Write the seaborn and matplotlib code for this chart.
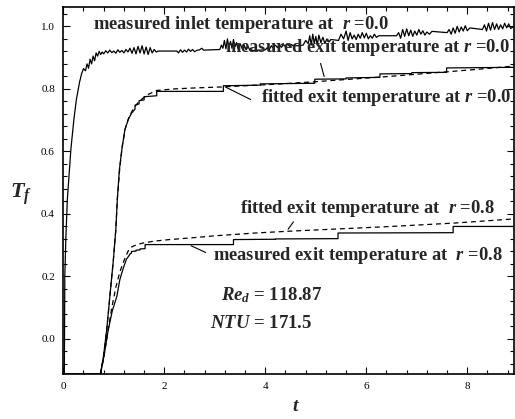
import numpy as np
import pandas as pd
import seaborn as sns
import matplotlib.pyplot as plt
from matplotlib.ticker import MultipleLocator

# measured inlet temperature at r = 0.0 (noisy trace)
inlet_t = [0.02, 0.03, 0.05, 0.08, 0.15, 0.21, 0.26, 0.32, 0.36, 0.40, 0.44, 0.47, 0.50, 0.53,
           0.56, 0.59, 0.62, 0.65, 0.68, 0.71, 0.74, 0.77, 0.80, 0.84, 0.88, 0.92, 0.96, 1.00,
           1.04, 1.08, 1.12, 1.16, 1.20, 1.24, 1.28, 1.32, 1.36, 1.40, 1.44, 1.48, 1.52, 1.56,
           1.60, 1.64, 1.68, 1.72, 1.76, 1.80, 1.84, 1.88, 2.25, 2.28, 2.32, 2.36, 2.40, 2.44,
           2.48, 2.52, 2.56, 2.60, 2.64, 2.70, 2.74, 2.78, 3.10, 3.13, 3.16, 3.19, 3.22, 3.25,
           3.28, 3.31, 3.34, 3.37, 3.40, 3.43, 3.46, 3.50, 3.54, 3.58, 3.62, 3.66, 3.70, 4.00,
           4.04, 4.08, 4.12, 4.16, 4.20, 4.24, 4.28, 4.32, 4.36, 4.40, 4.44, 4.48, 4.52, 4.56,
           4.75, 4.80, 4.85, 4.88, 4.91, 4.94, 4.97, 5.00, 5.03, 5.06, 5.10, 5.14, 5.18, 5.22,
           5.26, 5.30, 5.45, 5.50, 5.55, 5.60, 5.64, 5.68, 5.72, 5.76, 5.80, 5.84, 5.88, 5.92,
           5.96, 6.00, 6.04, 6.08, 6.12, 6.16, 6.20, 6.25, 6.60, 6.64, 6.68, 6.72, 6.76, 6.80,
           6.84, 6.88, 6.92, 6.96, 7.00, 7.04, 7.08, 7.12, 7.16, 7.20, 7.25, 7.30, 7.60, 7.64,
           7.68, 7.72, 7.76, 7.80, 7.84, 7.88, 7.92, 7.96, 8.00, 8.05, 8.30, 8.34, 8.38, 8.42,
           8.46, 8.50, 8.54, 8.58, 8.62, 8.66, 8.70, 8.74, 8.78, 8.82, 8.86, 8.92]
inlet_T = [-0.112, 0.20, 0.32, 0.446, 0.607, 0.703, 0.767, 0.82, 0.847, 0.865, 0.858, 0.88, 0.866, 0.895,
           0.88, 0.905, 0.89, 0.915, 0.905, 0.92, 0.91, 0.918, 0.912, 0.922, 0.915, 0.924, 0.916, 0.921,
           0.914, 0.925, 0.917, 0.923, 0.915, 0.926, 0.918, 0.930, 0.914, 0.932, 0.912, 0.936, 0.915, 0.938,
           0.912, 0.934, 0.910, 0.932, 0.915, 0.926, 0.918, 0.921, 0.921, 0.915, 0.925, 0.917, 0.924, 0.918,
           0.927, 0.920, 0.926, 0.919, 0.923, 0.925, 0.930, 0.924, 0.926, 0.940, 0.930, 0.955, 0.928, 0.960,
           0.932, 0.952, 0.930, 0.958, 0.935, 0.948, 0.928, 0.945, 0.930, 0.940, 0.925, 0.935, 0.922, 0.925,
           0.932, 0.926, 0.938, 0.930, 0.940, 0.932, 0.940, 0.933, 0.942, 0.935, 0.944, 0.936, 0.942, 0.937,
           0.940, 0.955, 0.945, 0.970, 0.940, 0.975, 0.945, 0.968, 0.940, 0.972, 0.948, 0.965, 0.945, 0.960,
           0.950, 0.958, 0.955, 0.975, 0.960, 0.985, 0.955, 0.980, 0.960, 0.972, 0.958, 0.975, 0.962, 0.980,
           0.963, 0.978, 0.960, 0.970, 0.962, 0.975, 0.965, 0.970, 0.970, 0.980, 0.962, 0.990, 0.968, 0.992,
           0.970, 0.988, 0.968, 0.985, 0.972, 0.990, 0.975, 0.986, 0.972, 0.982, 0.975, 0.984, 0.980, 0.990,
           0.975, 0.995, 0.978, 1.000, 0.982, 0.998, 0.985, 1.002, 0.986, 0.995, 0.990, 1.005, 0.985, 1.010,
           0.988, 1.012, 0.990, 1.008, 0.990, 1.005, 0.992, 1.010, 0.995, 1.008, 0.993, 1.000]

# measured exit temperature at r = 0.0 (staircase)
exit0_t = [0.00, 0.74, 0.80, 0.86, 0.93, 0.99, 1.04, 1.07, 1.11, 1.16, 1.22, 1.29, 1.35, 1.42, 1.42,
           1.50, 1.50, 1.60, 1.60, 1.85, 1.85, 3.17, 3.17, 3.90, 3.90, 4.98, 4.98, 5.60, 5.60,
           6.27, 6.27, 6.90, 6.90, 7.59, 7.59, 8.92]
exit0_T = [-0.112, -0.112, -0.05, 0.03, 0.15, 0.25, 0.35, 0.446, 0.54, 0.607, 0.67, 0.703, 0.722, 0.735, 0.748,
           0.752, 0.762, 0.765, 0.775, 0.778, 0.792, 0.792, 0.810, 0.812, 0.816, 0.818, 0.831, 0.832, 0.835,
           0.837, 0.848, 0.849, 0.852, 0.853, 0.867, 0.869]

# fitted exit temperature at r = 0.0
fit0_t = [0.74, 0.80, 0.86, 0.93, 0.99, 1.04, 1.07, 1.12, 1.17, 1.23, 1.30, 1.40, 1.50, 1.65, 1.85,
          2.20, 2.60, 3.10, 3.60, 4.20, 4.90, 5.60, 6.30, 7.00, 7.70, 8.30, 8.92]
fit0_T = [-0.112, -0.05, 0.03, 0.15, 0.25, 0.35, 0.45, 0.55, 0.62, 0.675, 0.71, 0.74, 0.76, 0.78, 0.795,
          0.800, 0.803, 0.806, 0.810, 0.815, 0.822, 0.830, 0.838, 0.847, 0.856, 0.864, 0.873]

# measured exit temperature at r = 0.8 (staircase)
exit8_t = [0.00, 0.73, 0.80, 0.89, 0.97, 1.06, 1.12, 1.19, 1.25, 1.29, 1.32, 1.35, 1.35, 1.44, 1.44,
           1.52, 1.52, 1.62, 1.62, 3.37, 3.37, 4.20, 4.20, 5.44, 5.44, 7.72, 7.72, 8.92]
exit8_T = [-0.112, -0.112, -0.06, 0.029, 0.09, 0.136, 0.19, 0.228, 0.255, 0.264, 0.272, 0.275, 0.280, 0.281, 0.284,
           0.285, 0.288, 0.289, 0.302, 0.302, 0.318, 0.319, 0.320, 0.321, 0.339, 0.340, 0.360, 0.360]

# fitted exit temperature at r = 0.8
fit8_t = [0.74, 0.80, 0.88, 0.96, 1.04, 1.12, 1.20, 1.28, 1.36, 1.46, 1.58, 1.80, 2.10, 2.50, 3.00,
          3.80, 4.50, 5.44, 6.50, 7.76, 8.92]
fit8_T = [-0.112, -0.06, 0.02, 0.10, 0.165, 0.215, 0.25, 0.28, 0.295, 0.302, 0.307, 0.313, 0.318, 0.323, 0.330,
          0.339, 0.345, 0.352, 0.360, 0.371, 0.384]

sns.set_theme(style="ticks")
plt.rcParams['font.family'] = ['Liberation Serif', 'DejaVu Serif']
plt.rcParams['mathtext.fontset'] = 'custom'
plt.rcParams['mathtext.rm'] = 'Liberation Serif:bold'
plt.rcParams['mathtext.it'] = 'Liberation Serif:bold:italic'
plt.rcParams['mathtext.bf'] = 'Liberation Serif:bold'

fig = plt.figure(figsize=(5.15, 4.19), dpi=100)
ax = fig.add_axes([63.3 / 515, 1 - 374 / 419, (513.5 - 63.3) / 515, (374 - 7.3) / 419])

lw = 0.9
sns.lineplot(x=inlet_t, y=inlet_T, sort=False, estimator=None, color='black', lw=lw, ax=ax)
sns.lineplot(x=exit0_t, y=exit0_T, sort=False, estimator=None, color='black', lw=lw, ax=ax)
sns.lineplot(x=fit0_t, y=fit0_T, sort=False, estimator=None, color='black', lw=lw,
             linestyle=(0, (4, 3)), ax=ax)
sns.lineplot(x=exit8_t, y=exit8_T, sort=False, estimator=None, color='black', lw=lw, ax=ax)
sns.lineplot(x=fit8_t, y=fit8_T, sort=False, estimator=None, color='black', lw=lw,
             linestyle=(0, (4, 3)), ax=ax)

ax.set_xlim(0, 8.915)
ax.set_ylim(-0.112, 1.061)
ax.xaxis.set_major_locator(MultipleLocator(2))
ax.xaxis.set_minor_locator(MultipleLocator(0.4))
ax.yaxis.set_major_locator(MultipleLocator(0.2))
ax.yaxis.set_minor_locator(MultipleLocator(0.04))
ax.yaxis.set_major_formatter(plt.FormatStrFormatter('%.1f'))
ax.tick_params(which='both', direction='in', top=True, right=True, colors='black',
               labelsize=8, pad=6)
ax.tick_params(which='major', length=5, width=0.8)
ax.tick_params(which='minor', length=3, width=0.8)
for s in ax.spines.values():
    s.set_linewidth(1.2)
    s.set_color('black')

ax.set_xlabel(r'$t$', fontsize=14, va='center')
ax.xaxis.set_label_coords(0.517, -0.088)
ax.set_ylabel(r'$T_f$', fontsize=16, rotation=0, va='center')
ax.yaxis.set_label_coords(-0.095, 0.49)

fs = 13.3
ax.text(0.59, 0.99, r'measured inlet temperature at  $r$ =0.0', fontsize=fs, fontweight='bold')
ax.text(3.2, 0.918, r'measured exit temperature at $r$ =0.0', fontsize=fs, fontweight='bold')
ax.text(3.92, 0.758, r'fitted exit temperature at $r$ =0.0', fontsize=fs, fontweight='bold')
ax.text(3.5, 0.404, r'fitted exit temperature at  $r$ =0.8', fontsize=fs, fontweight='bold')
ax.text(2.97, 0.252, r'measured exit temperature at  $r$ =0.8', fontsize=fs, fontweight='bold')
ax.text(3.13, 0.125, r'$Re_d$ = 118.87', fontsize=13.5, fontweight='bold')
ax.text(2.9, 0.035, r'$NTU$ = 171.5', fontsize=13.5, fontweight='bold')

# leader lines
lp = dict(arrowstyle='-', color='black', lw=0.8)
ax.annotate('', xy=(5.18, 0.831), xytext=(5.08, 0.89), arrowprops=lp)
ax.annotate('', xy=(3.16, 0.81), xytext=(3.76, 0.762), arrowprops=lp)
ax.annotate('', xy=(4.42, 0.344), xytext=(4.59, 0.382), arrowprops=lp)
ax.annotate('', xy=(2.48, 0.302), xytext=(2.87, 0.273), arrowprops=lp)

fig.savefig('out.png', dpi=100)
